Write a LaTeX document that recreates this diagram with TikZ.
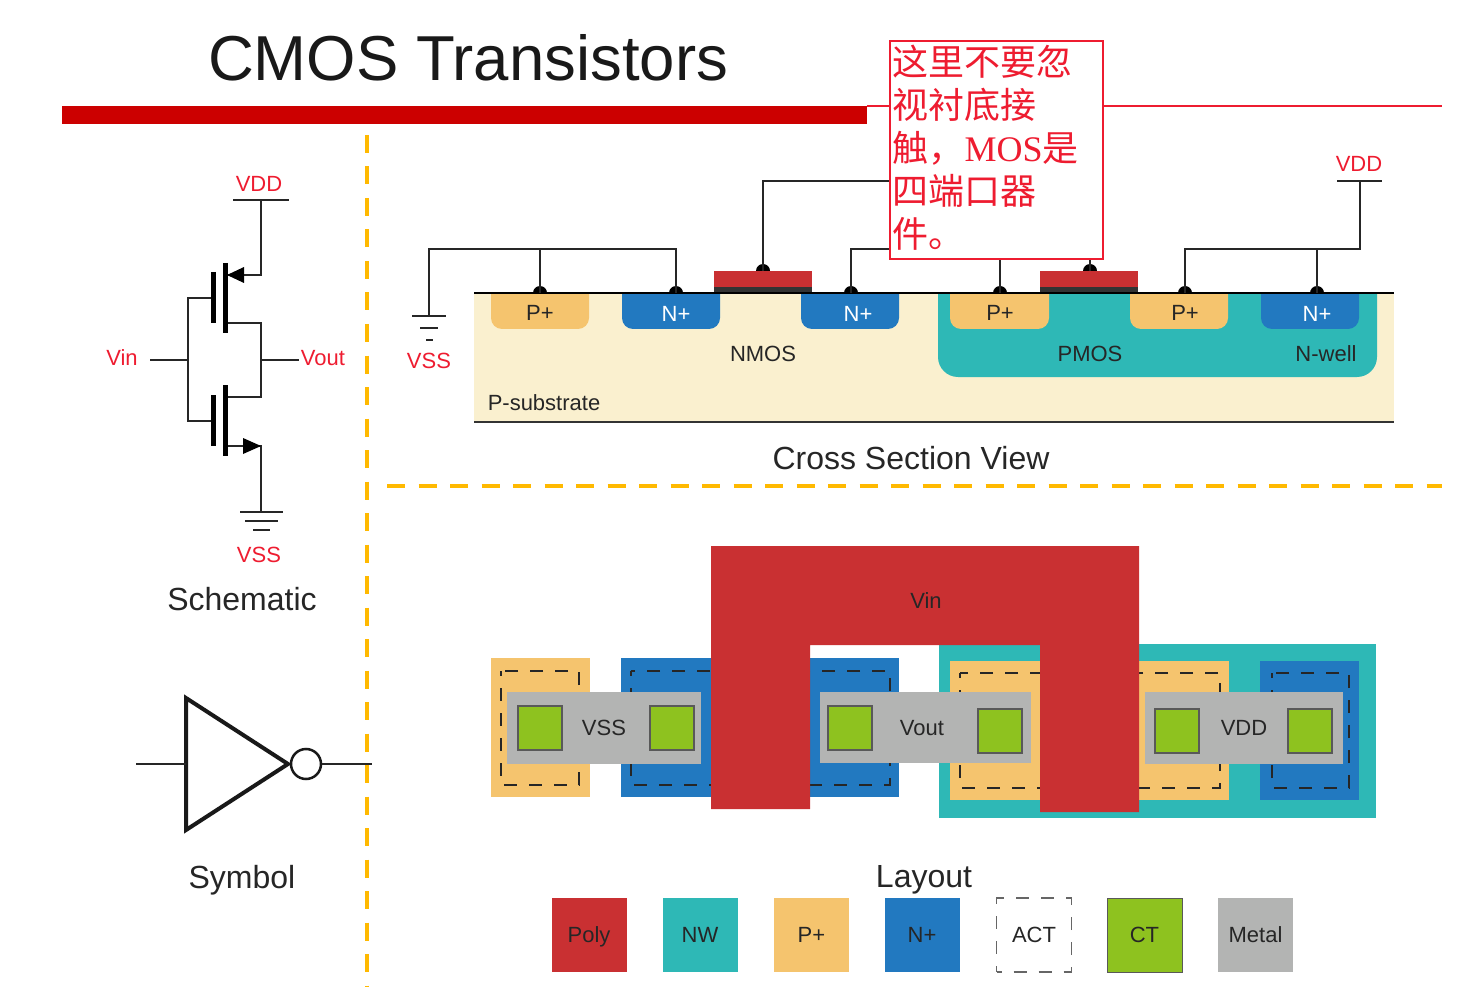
\documentclass[tikz,border=0pt]{standalone}
\usepackage{fontspec}
\setmainfont{Liberation Sans}
\newfontfamily\cjk{Noto Sans CJK SC}
\newfontfamily\serifpart{Liberation Serif}
\definecolor{polyred}{HTML}{C93032}
\definecolor{nwteal}{HTML}{2EB8B6}
\definecolor{pplusor}{HTML}{F5C46E}
\definecolor{nplusbl}{HTML}{2279C0}
\definecolor{metalgr}{HTML}{B3B4B3}
\definecolor{ctgreen}{HTML}{8EC21F}
\definecolor{subst}{HTML}{FAF0CF}
\definecolor{labelred}{HTML}{EE1C30}
\definecolor{divider}{HTML}{FFB900}
\newcommand\tapdot[1]{\fill ([xshift=-7pt]#1) arc (180:0:7pt) -- cycle;}
\tikzset{
  fs/.style={font=\fontsize{#1}{#1}\selectfont},
  wire/.style={draw=black!85,line width=2.5pt},
  thickwire/.style={draw=black,line width=5pt},
  sep/.style={draw=divider,line width=4pt,dash pattern=on 18pt off 13.5pt},
  redlabel/.style={text=labelred,fs=22,inner sep=0pt},
  blacklabel/.style={text=black!85,fs=22,inner sep=0pt},
  whitelabel/.style={text=white,fs=22,inner sep=0pt},
  caption/.style={text=black!85,fs=32,inner sep=0pt},
  act/.style={draw=black!85,line width=2pt,dash pattern=on 13pt off 12pt,dash phase=8pt},
  ct/.style={draw=black!65,line width=1.5pt,fill=ctgreen},
  legendbox/.style={minimum width=75pt,minimum height=74pt,inner sep=0pt,text=black!85,fs=22,text depth=0pt},
}
\begin{document}
\begin{tikzpicture}[x=1pt,y=-1pt]
\useasboundingbox (0,0) rectangle (1462,992);
\node[text=black!90,fs=63.5,inner sep=0pt] (title) at (468,58) {CMOS Transistors};
\fill[red!80!black] (62,106) rectangle (867,124);
\draw[labelred,line width=1.5pt] (867,106) -- (1442,106);
\draw[sep] (367,135) -- (367,986);
\draw[sep] (387,486) -- (1442,486);

\coordinate (vddtop) at (261,200);
\coordinate (psrc) at (261,275);
\coordinate (pchan) at (227,275);
\coordinate (pdrainr) at (261,323);
\coordinate (pdrainl) at (225,323);
\coordinate (nsrcr) at (261,397);
\coordinate (nsrcl) at (225,397);
\coordinate (ndrnl) at (225,446);
\coordinate (ndrnr) at (261,446);
\coordinate (gndtop) at (261,512);
\coordinate (pgate) at (213,298);
\coordinate (ngate) at (213,421);
\coordinate (injoin) at (188,360);
\coordinate (outjoin) at (261,360);
\node[redlabel] (vddsch) at (259,184) {VDD};
\node[redlabel] (vsssch) at (259,555) {VSS};
\node[redlabel] (vinsch) at (122,358) {Vin};
\node[redlabel] (voutsch) at (323,358) {Vout};
\node[caption] (schem) at (242,599) {Schematic};
\draw[wire] (233,200) -- (289,200);
\draw[wire] (vddtop) -- (psrc) -- (pchan);
\fill (227,275) -- (244,267) -- (244,283) -- cycle;
\draw[wire] (pdrainl) -- (pdrainr) -- (nsrcr) -- (nsrcl);
\draw[wire] (ndrnl) -- (ndrnr) -- (gndtop);
\fill (261,446) -- (243,438) -- (243,454) -- cycle;
\draw[wire] (pgate) -| (injoin) |- (ngate);
\draw[wire] (150,360) -- (injoin);
\draw[wire] (outjoin) -- (299,360);
\draw[thickwire] (225,263) -- (225,333);
\draw[thickwire] (213,272) -- (213,323);
\draw[thickwire] (225,385) -- (225,456);
\draw[thickwire] (213,395) -- (213,446);
\draw[wire] (240,512) -- (283,512);
\draw[wire] (245,521) -- (278,521);
\draw[wire] (253,530) -- (270,530);

\coordinate (tria) at (186,698);
\coordinate (trib) at (186,830);
\coordinate (tric) at (288,764);
\draw[line width=4pt,line join=miter,black!90] (tria) -- (tric) -- (trib) -- cycle;
\node[draw=black!90,line width=2.5pt,circle,minimum size=30pt,inner sep=0pt] (bubble) at (306,764) {};
\draw[wire] (136,764) -- (186,764);
\draw[wire] (bubble) -- (372,764);
\node[caption] (symb) at (242,880) {Symbol};

\fill[subst] (474,293) rectangle (1394,422);
\draw[black!80,line width=2.5pt] (474,422) -- (1394,422);
\begin{scope}
\clip (474,293) rectangle (1394,422);
\fill[nwteal,rounded corners=20pt] (938,270) -- (938,377) -- (1377,377) -- (1377,270) -- cycle;
\foreach \xa/\xb/\col in {491/589/pplusor,622/720/nplusbl,801/899/nplusbl,950/1049/pplusor,1130/1228/pplusor,1261/1359/nplusbl}
  \fill[\col,rounded corners=11pt] (\xa,270) -- (\xa,329) -- (\xb,329) -- (\xb,270) -- cycle;
\end{scope}
\foreach \xa in {714,1040} {
  \fill[polyred] (\xa,271) rectangle (\xa+98,287);
  \fill[black!80] (\xa,287) rectangle (\xa+98,293);
}
\draw[black,line width=2.5pt] (474,293) -- (1394,293);

\coordinate (tapa) at (540,293);
\coordinate (tapb) at (676,293);
\coordinate (tapc) at (851,293);
\coordinate (tapd) at (1000,293);
\coordinate (tape) at (1185,293);
\coordinate (tapf) at (1317,293);
\coordinate (gaten) at (763,271);
\coordinate (gatep) at (1090,271);
\coordinate (vssrail) at (429,249);
\coordinate (vsstop) at (429,316);
\coordinate (vinrail) at (1090,181);
\coordinate (voutrail) at (1000,249);
\coordinate (vddrail) at (1360,181);
\foreach \t in {tapa,tapb,tapc,tapd,tape,tapf,gaten,gatep} {\tapdot{\t}}
\draw[wire] (vsstop) -- (vssrail) -| (tapb);
\draw[wire] (tapa) -- (tapa |- vssrail);
\draw[wire] (gaten) |- (vinrail) -- (gatep);
\draw[wire] (tapc) |- (voutrail) -- (tapd);
\draw[wire] (tape) |- (1360,249) -- (vddrail);
\draw[wire] (tapf) -- (tapf |- 0,249);
\draw[wire] (1337,181) -- (1382,181);
\draw[wire] (412,316) -- (446,316);
\draw[wire] (420,328) -- (438,328);
\draw[wire] (426,340) -- (433,340);
\node[redlabel] (vssx) at (429,361) {VSS};
\node[redlabel] (vddx) at (1359,164) {VDD};
\node[blacklabel] (pa) at (540,313) {P+};
\node[whitelabel] (na) at (676,314) {N+};
\node[whitelabel] (nb) at (858,314) {N+};
\node[blacklabel] (pb) at (1000,313) {P+};
\node[blacklabel] (pc) at (1185,313) {P+};
\node[whitelabel] (nc) at (1317,314) {N+};
\node[blacklabel] (nmos) at (763,354) {NMOS};
\node[blacklabel] (pmos) at (1090,354) {PMOS};
\node[blacklabel] (nwell) at (1326,354) {N-well};
\node[blacklabel] (psub) at (544,403) {P-substrate};
\node[caption] (csv) at (911,458) {Cross Section View};

\node[draw=labelred,line width=2.5pt,fill=white,anchor=north west,outer sep=0pt,minimum width=213pt,minimum height=218pt,text width=208pt,inner sep=2pt,align=left,text=labelred,font=\cjk\fontsize{36}{43}\selectfont] (callout) at (890,41) {这里不要忽\\视衬底接\\触，{\serifpart MOS}是\\四端口器\\件。\rule[-8pt]{0pt}{8pt}};

\fill[nwteal] (939,644) rectangle (1376,818);
\fill[pplusor] (491,658) rectangle (590,797);
\fill[nplusbl] (621,658) rectangle (899,797);
\fill[pplusor] (950,661) rectangle (1229,800);
\fill[nplusbl] (1260,661) rectangle (1359,800);
\draw[act] (501,671) rectangle (579,785);
\draw[act] (631,671) rectangle (890,785);
\draw[act] (960,673) rectangle (1220,788);
\draw[act] (1272,673) rectangle (1349,788);
\fill[metalgr] (507,692) rectangle (701,764);
\fill[metalgr] (820,692) rectangle (1031,763);
\fill[metalgr] (1145,692) rectangle (1343,764);
\foreach \x/\y in {518/706,650/706,828/706,978/709,1155/709,1288/709}
  \draw[ct] (\x,\y) rectangle (\x+44,\y+44);
\fill[polyred] (711,546) -- (1139,546) -- (1139,812) -- (1040,812) -- (1040,645) -- (810,645) -- (810,809) -- (711,809) -- cycle;
\node[blacklabel] (vssl) at (604,728) {VSS};
\node[blacklabel] (voutl) at (922,728) {Vout};
\node[blacklabel] (vddl) at (1244,728) {VDD};
\node[blacklabel] (vinl) at (926,601) {Vin};
\node[caption] (lay) at (924,880) {Layout};

\node[legendbox,fill=polyred] (lpoly) at (589,935) {Poly};
\node[legendbox,fill=nwteal] (lnw) at (700,935) {NW};
\node[legendbox,fill=pplusor] (lp) at (811.5,935) {P+};
\node[legendbox,fill=nplusbl] (ln) at (922,935) {N+};
\node[legendbox,draw=black!60,line width=1.5pt,dash pattern=on 13pt off 12pt,dash phase=8pt] (lact) at (1034,935) {ACT};
\node[legendbox,fill=ctgreen,draw=black!65,line width=1pt] (lct) at (1144.5,935) {CT};
\node[legendbox,fill=metalgr] (lmet) at (1255.5,935) {Metal};
\end{tikzpicture}
\end{document}
